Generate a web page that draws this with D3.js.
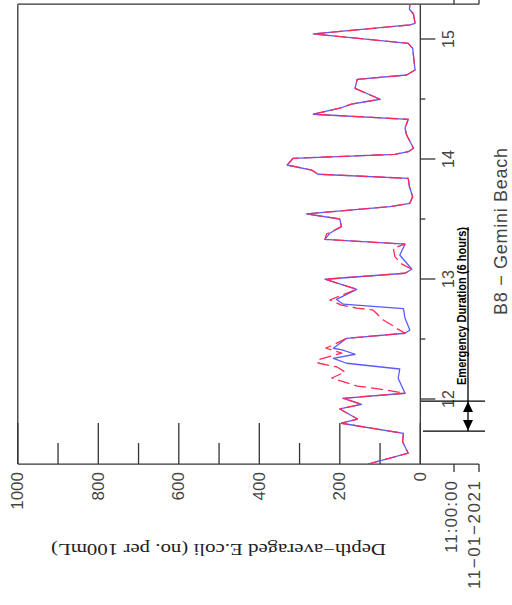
<!DOCTYPE html>
<html>
<head>
<meta charset="utf-8">
<script src="https://cdn.jsdelivr.net/npm/d3@7"></script>
<style>
  html, body { margin: 0; padding: 0; background: #fff; }
  svg { display: block; }
</style>
</head>
<body>
<svg id="chart" width="512" height="605"></svg>
<script>
// ---- data (time in day-of-month, Nov 2021; values in no. per 100mL) ----
const blueT = [11.458, 11.548, 11.644, 11.714, 11.798, 11.833, 11.917, 11.956, 12.006, 12.048,
  12.173, 12.250, 12.298, 12.339, 12.373, 12.408, 12.423, 12.506, 12.548, 12.575,
  12.673, 12.753, 12.790, 12.830, 12.914, 12.998, 13.048, 13.081, 13.200, 13.290,
  13.330, 13.381, 13.436, 13.500, 13.542, 13.603, 13.631, 13.686, 13.769, 13.839,
  13.873, 13.908, 13.950, 14.006, 14.039, 14.061, 14.089, 14.200, 14.256, 14.331,
  14.373, 14.423, 14.458, 14.498, 14.589, 14.664, 14.700, 14.742, 14.923, 14.964,
  15.042, 15.117, 15.131, 15.208, 15.248, 15.290];
const blueV = [130, 30, 44, 42, 196, 156, 200, 146, 192, 38,
  55, 51, 183, 216, 162, 192, 216, 183, 38, 26,
  38, 42, 192, 208, 158, 237, 38, 21, 51, 38,
  237, 225, 196, 200, 283, 75, 26, 19, 27, 30,
  254, 270, 331, 316, 63, 30, 17, 34, 38, 30,
  266, 200, 171, 100, 162, 157, 34, 13, 19, 30,
  266, 26, 13, 17, 27, 26];

const redT = [11.458, 11.548, 11.644, 11.714, 11.798, 11.833, 11.917, 11.956, 12.006, 12.048,
  12.083, 12.108, 12.175, 12.225, 12.267, 12.300, 12.325, 12.383, 12.425, 12.450, 12.506,
  12.548, 12.589, 12.617, 12.658, 12.714, 12.742, 12.758, 12.783, 12.825, 12.914,
  12.998, 13.048, 13.081, 13.131, 13.186, 13.256, 13.290,
  13.330, 13.375, 13.436, 13.500, 13.542, 13.603, 13.631, 13.686, 13.769, 13.839,
  13.873, 13.908, 13.950, 14.006, 14.039, 14.061, 14.089, 14.200, 14.256, 14.331,
  14.373, 14.423, 14.458, 14.498, 14.589, 14.664, 14.700, 14.742, 14.923, 14.964,
  15.042, 15.117, 15.131, 15.208, 15.248, 15.290];
const redV = [130, 30, 44, 42, 196, 156, 200, 146, 192, 38,
  100, 157, 220, 187, 207, 254, 257, 195, 235, 217, 183,
  38, 59, 71, 92, 109, 118, 158, 196, 225, 158,
  237, 38, 21, 49, 63, 67, 38,
  237, 233, 196, 200, 283, 75, 26, 19, 27, 30,
  254, 270, 331, 316, 63, 30, 17, 34, 38, 30,
  266, 200, 171, 100, 162, 157, 34, 13, 19, 30,
  266, 26, 13, 17, 27, 26];

const valueTicksMajor = [0, 200, 400, 600, 800, 1000];
const valueTicksMinor = [100, 300, 500, 700, 900];
const valueTickLabels = ["0", "200", "400", "600", "800", "1000"];
const timeTicksMajor = [12, 13, 14, 15];
const timeTicksMinor = [12.5, 13.5, 14.5];
const timeTickLabels = ["12", "13", "14", "15"];
const startLabels = ["11:00:00", "11\u221201\u22122021"];
const timeDomain = [11.458, 15.29];
const emergency = [11.733, 11.983];
const titleText = "B8 \u2212 Gemini Beach";
const yTitle = "Depth\u2212averaged E.coli (no. per 100mL)";
const emergencyText = "Emergency Duration (6 hours)";

// ---- scales (figure is rotated: values run right-to-left, time runs upward) ----
const x = d3.scaleLinear().domain([0, 1000]).range([420.3, 17.8]);
const y = d3.scaleLinear().domain([12, 15]).range([399, 39]);

const svg = d3.select("#chart");
svg.append("rect").attr("width", 512).attr("height", 605).attr("fill", "#fff");

const yTop = y(timeDomain[1]), yBot = y(timeDomain[0]);
const xLeft = x(1000), xRight = x(0);
const frameColor = "#333";

// frame
const g = svg.append("g").attr("stroke", frameColor).attr("stroke-width", 1.3).attr("fill", "none");
g.append("line").attr("x1", xLeft).attr("x2", xLeft).attr("y1", yTop).attr("y2", yBot);
g.append("line").attr("x1", xLeft).attr("x2", 479).attr("y1", yTop).attr("y2", yTop);
g.append("line").attr("x1", xLeft).attr("x2", 479).attr("y1", yBot).attr("y2", yBot);
g.append("line").attr("x1", xRight).attr("x2", xRight).attr("y1", yTop).attr("y2", yBot);
// end ticks for start-date labels
[454, 479].forEach(px => {
  g.append("line").attr("x1", px).attr("x2", px).attr("y1", yBot).attr("y2", yBot + 8);
  g.append("line").attr("x1", px).attr("x2", px).attr("y1", yTop).attr("y2", yTop - 8);
});

// value ticks (inside, from bottom)
valueTicksMajor.forEach(v => {
  g.append("line").attr("x1", x(v)).attr("x2", x(v)).attr("y1", yBot).attr("y2", yBot - 41);
});
valueTicksMinor.forEach(v => {
  g.append("line").attr("x1", x(v)).attr("x2", x(v)).attr("y1", yBot).attr("y2", yBot - 21);
});
// time ticks (outside, right)
timeTicksMajor.forEach(t => {
  g.append("line").attr("x1", xRight).attr("x2", xRight + 15).attr("y1", y(t)).attr("y2", y(t));
});
timeTicksMinor.forEach(t => {
  g.append("line").attr("x1", xRight).attr("x2", xRight + 5).attr("y1", y(t)).attr("y2", y(t));
});

const labelFont = "'Liberation Sans', Arial, sans-serif";
// value tick labels
valueTicksMajor.forEach((v, i) => {
  const px = x(v), py = 472;
  svg.append("text").attr("x", px).attr("y", py)
    .attr("transform", `rotate(-90,${px},${py})`)
    .attr("text-anchor", "end").attr("dominant-baseline", "central")
    .attr("font-family", labelFont).attr("font-size", 17).attr("fill", "#444")
    .text(valueTickLabels[i]);
});
// time tick labels
timeTicksMajor.forEach((t, i) => {
  const px = 448, py = y(t);
  svg.append("text").attr("x", px).attr("y", py)
    .attr("transform", `rotate(-90,${px},${py})`)
    .attr("text-anchor", "middle").attr("dominant-baseline", "central")
    .attr("font-family", labelFont).attr("font-size", 16).attr("fill", "#444")
    .text(timeTickLabels[i]);
});
// start date labels
const startLens = [72, 108];
[451, 474].forEach((px, i) => {
  const py = 481;
  svg.append("text").attr("x", px).attr("y", py)
    .attr("transform", `rotate(-90,${px},${py})`)
    .attr("text-anchor", "end").attr("dominant-baseline", "central")
    .attr("font-family", labelFont).attr("font-size", 17).attr("fill", "#444")
    .attr("textLength", startLens[i]).attr("lengthAdjust", "spacing")
    .text(startLabels[i]);
});

// title
svg.append("text").attr("x", 501).attr("y", 231.5)
  .attr("transform", "rotate(-90,501,231.5)")
  .attr("text-anchor", "middle").attr("dominant-baseline", "central")
  .attr("font-family", labelFont).attr("font-size", 18).attr("fill", "#444")
  .attr("textLength", 167).attr("lengthAdjust", "spacing")
  .text(titleText);

// value axis title (upside-down)
svg.append("text").attr("x", 218.5).attr("y", 549)
  .attr("transform", "rotate(180,218.5,549)")
  .attr("text-anchor", "middle").attr("dominant-baseline", "central")
  .attr("font-family", "'Liberation Serif', 'Times New Roman', serif").attr("font-size", 17).attr("fill", "#222")
  .attr("textLength", 335).attr("lengthAdjust", "spacingAndGlyphs")
  .text(yTitle);

// series
const blueData = blueT.map((t, i) => ({ t, v: blueV[i] }));
const redData = redT.map((t, i) => ({ t, v: redV[i] }));
const line = d3.line().x(d => x(d.v)).y(d => y(d.t));
svg.append("clipPath").attr("id", "plotclip").append("rect")
  .attr("x", xLeft).attr("y", yTop).attr("width", xRight - xLeft).attr("height", yBot - yTop);
const plot = svg.append("g").attr("clip-path", "url(#plotclip)");
plot.append("path").datum(blueData).attr("d", line)
  .attr("fill", "none").attr("stroke", "#5a5aff").attr("stroke-width", 1.3).attr("stroke-linejoin", "round");
plot.append("path").datum(redData).attr("d", line)
  .attr("fill", "none").attr("stroke", "#ff2a55").attr("stroke-width", 1.3)
  .attr("stroke-dasharray", "12,5").attr("stroke-linejoin", "round");

// emergency duration annotation
const eTop = y(emergency[1]), eBot = y(emergency[0]);
const ax = 468;
const ann = svg.append("g").attr("stroke", "#000").attr("stroke-width", 1.3);
ann.append("line").attr("x1", 421).attr("x2", 485).attr("y1", eTop).attr("y2", eTop);
ann.append("line").attr("x1", 423).attr("x2", 485).attr("y1", eBot).attr("y2", eBot);
ann.append("line").attr("x1", ax).attr("x2", ax).attr("y1", 227).attr("y2", eBot);
svg.append("path").attr("d", `M${ax},${eTop + 0.5} L${ax - 5},${eTop + 11} L${ax + 5},${eTop + 11} Z`).attr("fill", "#000");
svg.append("path").attr("d", `M${ax},${eBot - 0.5} L${ax - 5},${eBot - 11} L${ax + 5},${eBot - 11} Z`).attr("fill", "#000");
svg.append("text").attr("x", 461.5).attr("y", 306)
  .attr("transform", "rotate(-90,461.5,306)")
  .attr("text-anchor", "middle").attr("dominant-baseline", "central")
  .attr("font-family", labelFont).attr("font-size", 12).attr("font-weight", "bold").attr("fill", "#000")
  .attr("textLength", 158).attr("lengthAdjust", "spacingAndGlyphs")
  .text(emergencyText);
</script>
</body>
</html>
